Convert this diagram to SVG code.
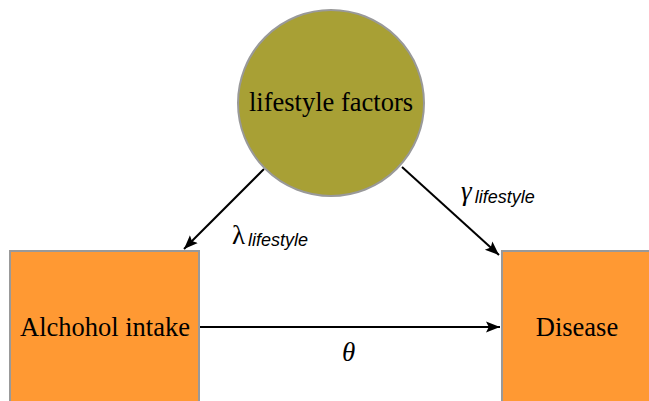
<svg xmlns="http://www.w3.org/2000/svg" width="649" height="401" viewBox="0 0 649 401">
  <style>
    .node-box { fill: #FF9933; stroke: #999999; stroke-width: 2; }
    .node-circle { fill: #A8A035; stroke: #999999; stroke-width: 2; }
    .label { font-family: "Liberation Serif", "Times New Roman", serif; font-size: 26.5px; fill: #000; text-anchor: middle; }
    .edge { stroke: #000; stroke-width: 2; fill: none; marker-end: url(#arrow); }
    .greek { font-family: "Liberation Serif", "DejaVu Serif", serif; font-size: 27px; fill: #000; }
    .sub { font-family: "Liberation Sans", Arial, sans-serif; font-style: italic; font-size: 18px; fill: #000; }
  </style>
  <defs>
    <marker id="arrow" viewBox="0 0 10 10" refX="10" refY="5" markerWidth="7" markerHeight="7" orient="auto" markerUnits="strokeWidth">
      <path d="M0,1 L10,5 L0,9 L2,5 Z" fill="#000"/>
    </marker>
  </defs>

  <g id="connectors">
    <line class="edge" x1="264" y1="169" x2="184" y2="249"/>
    <line class="edge" x1="402" y1="167" x2="499" y2="255"/>
    <line class="edge" x1="199" y1="327" x2="500" y2="327"/>
    <text class="greek" x="232" y="244">λ<tspan class="sub" dx="3" dy="2">lifestyle</tspan></text>
    <text class="greek" x="461" y="200"><tspan font-style="italic">γ</tspan><tspan class="sub" dx="3" dy="3">lifestyle</tspan></text>
    <text class="greek" x="342" y="361" font-style="italic">θ</text>
  </g>

  <g id="lifestyle-factors">
    <circle class="node-circle" cx="331" cy="103" r="93"/>
    <text class="label" x="331" y="111">lifestyle factors</text>
  </g>

  <g id="alcohol-intake">
    <rect class="node-box" x="10" y="251" width="189" height="160"/>
    <text class="label" x="105" y="336">Alchohol intake</text>
  </g>

  <g id="disease">
    <rect class="node-box" x="502" y="251" width="160" height="160"/>
    <text class="label" x="577" y="336">Disease</text>
  </g>
</svg>
